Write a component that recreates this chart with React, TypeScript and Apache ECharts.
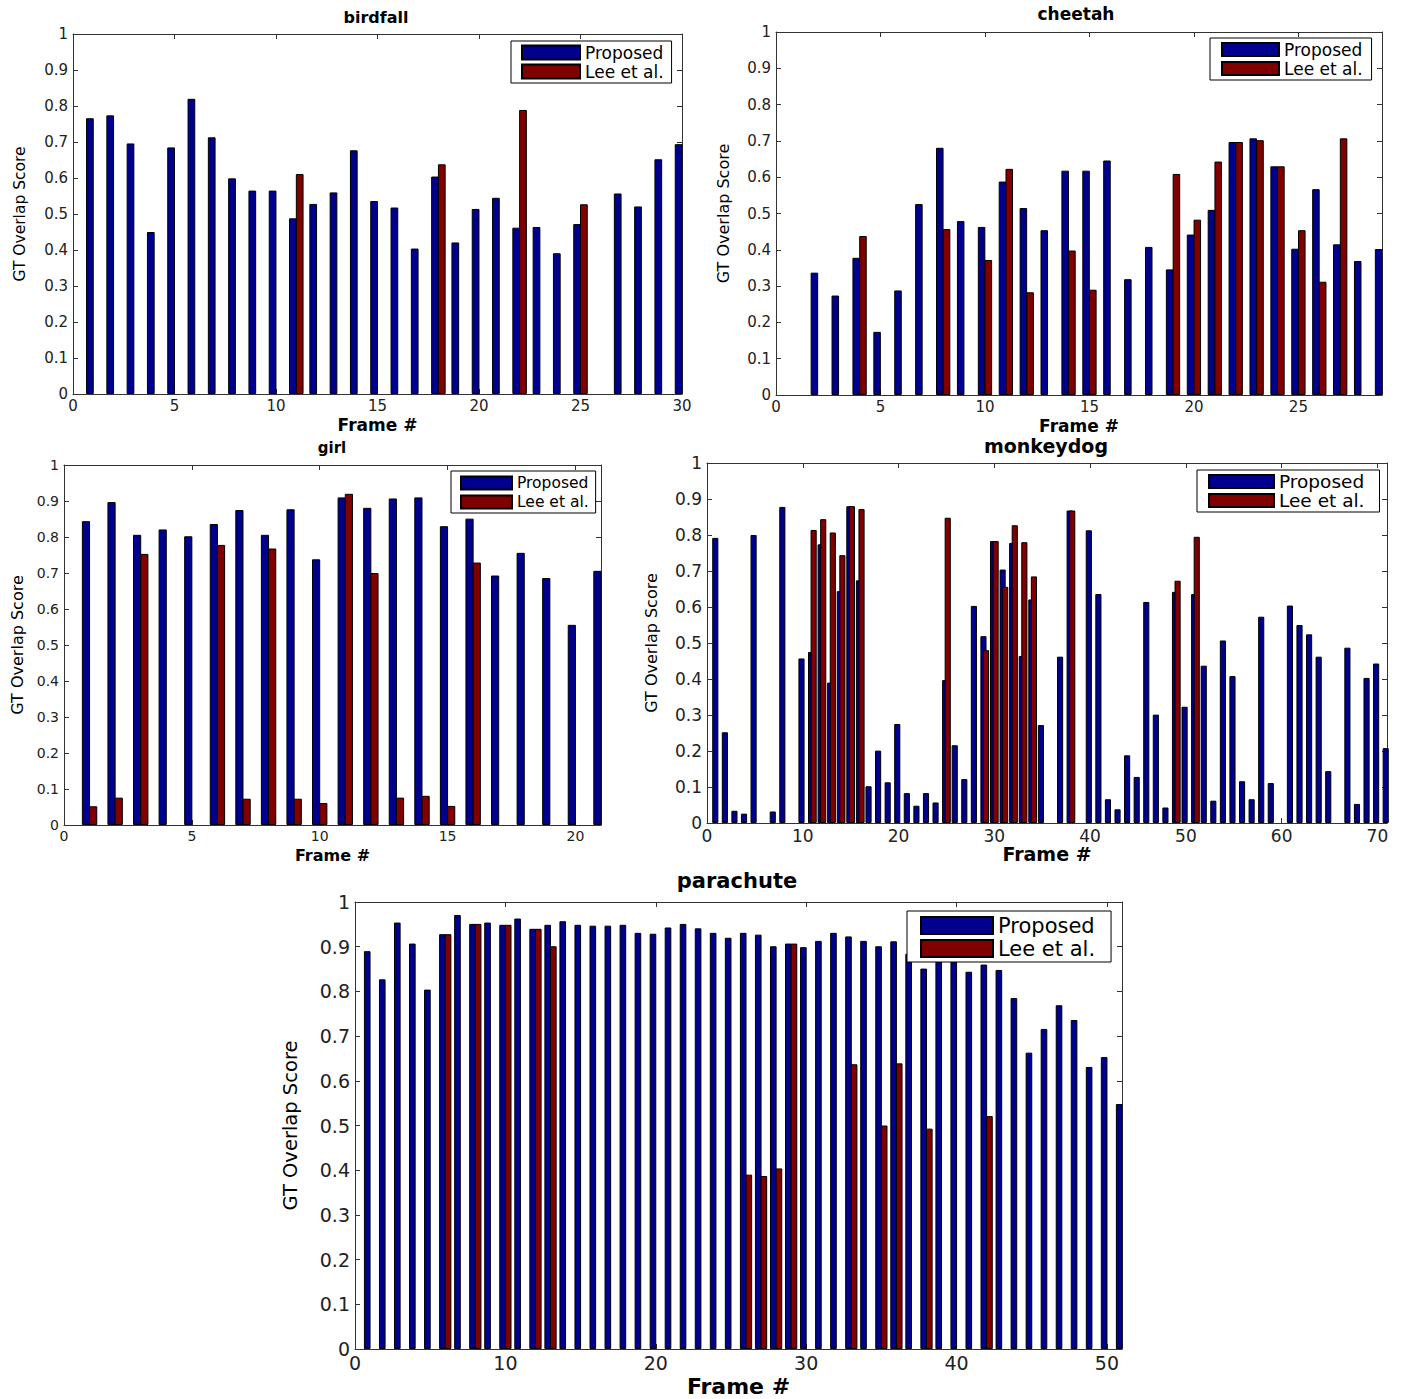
import React, { useEffect, useRef } from "react";
import * as echarts from "echarts";

// ---------- DATA (frame index = position + 1; 0 = no bar) ----------
const birdfallProposed = [0.766, 0.774, 0.696, 0.45, 0.685, 0.82, 0.713, 0.599, 0.565, 0.565, 0.488, 0.528, 0.56, 0.677, 0.536, 0.518, 0.404, 0.604, 0.421, 0.514, 0.545, 0.462, 0.464, 0.391, 0.472, 0, 0.557, 0.521, 0.652, 0.694];
const birdfallLee = [0, 0, 0, 0, 0, 0, 0, 0, 0, 0, 0.611, 0, 0, 0, 0, 0, 0, 0.638, 0, 0, 0, 0.789, 0, 0, 0.527, 0, 0, 0, 0, 0];

const cheetahProposed = [0, 0.337, 0.274, 0.378, 0.174, 0.288, 0.526, 0.681, 0.479, 0.463, 0.588, 0.515, 0.454, 0.618, 0.618, 0.646, 0.319, 0.408, 0.346, 0.442, 0.51, 0.697, 0.707, 0.63, 0.403, 0.567, 0.415, 0.369, 0.402];
const cheetahLee = [0, 0, 0, 0.438, 0, 0, 0, 0.457, 0, 0.372, 0.623, 0.283, 0, 0.398, 0.29, 0, 0, 0, 0.609, 0.483, 0.643, 0.697, 0.702, 0.63, 0.454, 0.312, 0.707, 0, 0];

const girlProposed = [0.844, 0.897, 0.806, 0.821, 0.802, 0.836, 0.875, 0.806, 0.877, 0.738, 0.91, 0.881, 0.907, 0.91, 0.83, 0.851, 0.693, 0.756, 0.686, 0.556, 0.706];
const girlLee = [0.052, 0.076, 0.753, 0, 0, 0.778, 0.073, 0.768, 0.073, 0.061, 0.92, 0.7, 0.076, 0.081, 0.053, 0.729, 0, 0, 0, 0, 0];

const monkeydogProposed = [
  0.792, 0.252, 0.034, 0.026, 0.8, 0, 0.032, 0.878, 0, 0.457,
  0.475, 0.774, 0.39, 0.644, 0.88, 0.674, 0.102, 0.201, 0.113, 0.275,
  0.083, 0.048, 0.083, 0.057, 0.397, 0.216, 0.122, 0.603, 0.519, 0.783,
  0.704, 0.778, 0.464, 0.621, 0.272, 0, 0.462, 0.868, 0, 0.813,
  0.636, 0.066, 0.038, 0.188, 0.128, 0.614, 0.301, 0.043, 0.642, 0.323,
  0.636, 0.437, 0.062, 0.507, 0.408, 0.116, 0.066, 0.573, 0.111, 0,
  0.604, 0.55, 0.524, 0.462, 0.144, 0, 0.487, 0.053, 0.403, 0.443,
  0.208,
];
const monkeydogLee = [
  0, 0, 0, 0, 0, 0, 0, 0, 0, 0,
  0.814, 0.844, 0.807, 0.744, 0.88, 0.872, 0, 0, 0, 0,
  0, 0, 0, 0, 0.848, 0, 0, 0, 0.48, 0.783,
  0.656, 0.827, 0.78, 0.685, 0, 0, 0, 0.868, 0, 0,
  0, 0, 0, 0, 0, 0, 0, 0, 0.673, 0,
  0.795, 0, 0, 0, 0, 0, 0, 0, 0, 0,
  0, 0, 0, 0, 0, 0, 0, 0, 0, 0,
  0,
];

const parachuteProposed = [
  0.89, 0.827, 0.954, 0.907, 0.804, 0.928, 0.971, 0.951, 0.954, 0.949,
  0.963, 0.94, 0.949, 0.957, 0.949, 0.947, 0.947, 0.949, 0.931, 0.929,
  0.943, 0.951, 0.941, 0.931, 0.92, 0.931, 0.927, 0.901, 0.907, 0.899,
  0.913, 0.931, 0.923, 0.913, 0.901, 0.912, 0.884, 0.851, 0.88, 0.87,
  0.844, 0.86, 0.848, 0.785, 0.663, 0.716, 0.769, 0.736, 0.631, 0.653,
  0.548,
];
const parachuteLee = [
  0, 0, 0, 0, 0, 0.928, 0, 0.951, 0, 0.949,
  0, 0.94, 0.901, 0, 0, 0, 0, 0, 0, 0,
  0, 0, 0, 0, 0, 0.39, 0.387, 0.404, 0.907, 0,
  0, 0, 0.637, 0, 0.5, 0.639, 0, 0.493, 0, 0,
  0, 0.521, 0, 0, 0, 0, 0, 0, 0, 0,
  0,
];

const seriesNames = ["Proposed", "Lee et al."];
const xAxisName = "Frame #";
const yAxisName = "GT Overlap Score";

// ---------- STYLE / LAYOUT ----------
const BLUE = "#00008f";
const RED = "#800000";
const AXIS = "#333";
const FONT = "'DejaVu Sans', 'Liberation Sans', sans-serif";

const panels = [
  {
    title: "birdfall", proposed: birdfallProposed, lee: birdfallLee, xMax: 30, xInterval: 5,
    grid: { left: 73, top: 34, width: 609, height: 360 }, barWidth: "38%", barGap: "-12%",
    titlePos: [376, 17], titleSize: 16, tickSize: 15, xNameSize: 17, xNameGap: 22, yNameSize: 15.5, yNameGap: 45,
    legend: { left: 511, top: 41, itemWidth: 58, itemHeight: 14, fontSize: 17, itemGap: 2, padding: [3, 8, 3, 10] },
  },
  {
    title: "cheetah", proposed: cheetahProposed, lee: cheetahLee, xMax: 29, xInterval: 5,
    grid: { left: 776, top: 32, width: 606, height: 363 }, barWidth: "36%", barGap: "-10%",
    titlePos: [1076, 14], titleSize: 17, tickSize: 15, xNameSize: 17, xNameGap: 22, yNameSize: 16, yNameGap: 45,
    legend: { left: 1210, top: 38, itemWidth: 57, itemHeight: 13, fontSize: 17, itemGap: 2, padding: [3, 9, 3, 11] },
  },
  {
    title: "girl", proposed: girlProposed, lee: girlLee, xMax: 21, xInterval: 5,
    grid: { left: 64, top: 465, width: 537, height: 360 }, barWidth: "32%", barGap: "-12%",
    titlePos: [332, 448], titleSize: 15, tickSize: 14, xNameSize: 16, xNameGap: 22, yNameSize: 16, yNameGap: 39,
    legend: { left: 451, top: 471, itemWidth: 51, itemHeight: 13, fontSize: 15.5, itemGap: 3, padding: [4, 7, 3, 9] },
  },
  {
    title: "monkeydog", proposed: monkeydogProposed, lee: monkeydogLee, xMax: 71, xInterval: 10,
    grid: { left: 707, top: 463, width: 680, height: 360 }, barWidth: "64%", barGap: "-58%",
    titlePos: [1046, 446], titleSize: 19, tickSize: 17, xNameSize: 19, xNameGap: 20, yNameSize: 16, yNameGap: 48,
    legend: { left: 1197, top: 470, itemWidth: 65, itemHeight: 13, fontSize: 18.5, itemGap: 0, padding: [2, 15, 2, 11] },
  },
  {
    title: "parachute", proposed: parachuteProposed, lee: parachuteLee, xMax: 51, xInterval: 10,
    grid: { left: 355, top: 902, width: 767, height: 447 }, barWidth: "44%", barGap: "-15%",
    titlePos: [737, 881], titleSize: 21, tickSize: 19, xNameSize: 22, xNameGap: 26, yNameSize: 19.5, yNameGap: 55,
    legend: { left: 907, top: 911, itemWidth: 72, itemHeight: 17, fontSize: 21, itemGap: 2, padding: [4, 16, 3, 13] },
  },
];

function toPairs(values: number[]) {
  return values.map((v, i) => [i + 1, v]).filter((p) => p[1] > 0);
}

function buildOption() {
  const grid: any[] = [];
  const xAxis: any[] = [];
  const yAxis: any[] = [];
  const series: any[] = [];
  const legend: any[] = [];
  const graphic: any[] = [];

  panels.forEach((p, i) => {
    grid.push({ ...p.grid, containLabel: false });
    const axisLine = { show: true, onZero: false, lineStyle: { color: AXIS, width: 1 } };
    const axisTick = { show: true, inside: true, length: 5, lineStyle: { color: AXIS } };
    const label = { fontSize: p.tickSize, fontFamily: FONT, color: "#222" };
    const showMax = p.xMax % p.xInterval === 0;
    xAxis.push({
      type: "value", gridIndex: i, min: 0, max: p.xMax, interval: p.xInterval, position: "bottom",
      axisLine, axisTick, splitLine: { show: false },
      axisLabel: { ...label, margin: 4, showMaxLabel: showMax },
      name: xAxisName, nameLocation: "middle", nameGap: p.xNameGap,
      nameTextStyle: { fontFamily: FONT, fontWeight: "bold", fontSize: p.xNameSize, color: "#000" },
    });
    xAxis.push({
      type: "value", gridIndex: i, min: 0, max: p.xMax, interval: p.xInterval, position: "top",
      axisLine, axisTick, splitLine: { show: false }, axisLabel: { show: false },
    });
    yAxis.push({
      type: "value", gridIndex: i, min: 0, max: 1, interval: 0.1, position: "left",
      axisLine, axisTick, splitLine: { show: false },
      axisLabel: { ...label, margin: 5 },
      name: yAxisName, nameLocation: "middle", nameGap: p.yNameGap,
      nameTextStyle: { fontFamily: FONT, fontSize: p.yNameSize, color: "#000" },
    });
    yAxis.push({
      type: "value", gridIndex: i, min: 0, max: 1, interval: 0.1, position: "right",
      axisLine, axisTick, splitLine: { show: false }, axisLabel: { show: false },
    });
    series.push({
      type: "bar", name: seriesNames[0], xAxisIndex: 2 * i, yAxisIndex: 2 * i,
      data: toPairs(p.proposed), barWidth: p.barWidth, barGap: p.barGap,
      itemStyle: { color: BLUE, borderColor: "#000", borderWidth: 1 },
    });
    series.push({
      type: "bar", name: seriesNames[1], xAxisIndex: 2 * i, yAxisIndex: 2 * i,
      data: toPairs(p.lee), barWidth: p.barWidth, barGap: p.barGap,
      itemStyle: { color: RED, borderColor: "#000", borderWidth: 1 },
    });
    legend.push({
      left: p.legend.left, top: p.legend.top, orient: "vertical", icon: "rect",
      itemWidth: p.legend.itemWidth, itemHeight: p.legend.itemHeight, itemGap: p.legend.itemGap,
      padding: p.legend.padding, borderColor: "#000", borderWidth: 1, backgroundColor: "#fff",
      selectedMode: false, data: seriesNames,
      textStyle: { fontFamily: FONT, fontSize: p.legend.fontSize, color: "#000" },
    });
    graphic.push({
      type: "text", x: p.titlePos[0], y: p.titlePos[1],
      style: {
        text: p.title, fill: "#000", textAlign: "center", textVerticalAlign: "middle",
        font: `bold ${p.titleSize}px ${FONT}`,
      },
    });
  });

  return { animation: false, backgroundColor: "#fff", grid, xAxis, yAxis, series, legend, graphic };
}

export default function App() {
  const ref = useRef<HTMLDivElement>(null);
  useEffect(() => {
    if (!ref.current) return;
    const chart = echarts.init(ref.current, null, { renderer: "svg" });
    chart.setOption(buildOption() as any);
    return () => chart.dispose();
  }, []);
  return (
    <div
      ref={ref}
      style={{ position: "absolute", left: 0, top: 0, width: 1405, height: 1399, background: "#fff" }}
    />
  );
}
